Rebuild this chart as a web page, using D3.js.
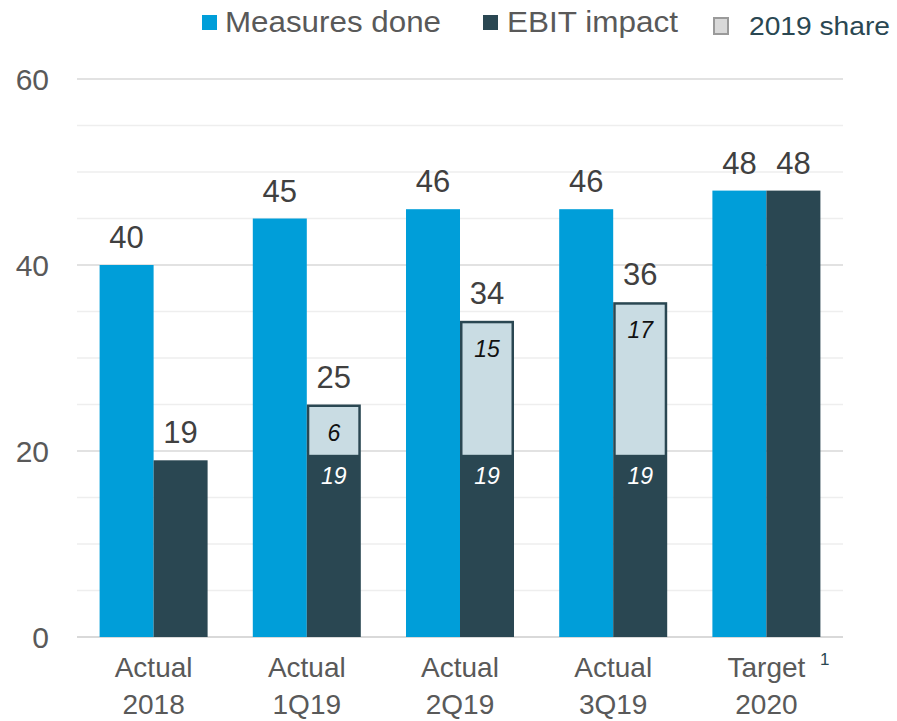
<!DOCTYPE html>
<html><head><meta charset="utf-8">
<script src="https://cdn.jsdelivr.net/npm/d3@7"></script>
<style>body{margin:0;background:#fff}svg{display:block;font-family:"Liberation Sans",Arial,sans-serif}</style>
</head><body><svg id="c" width="897" height="721"></svg>
<script>
const categories = ["Actual|2018","Actual|1Q19","Actual|2Q19","Actual|3Q19","Target|2020"];
const measuresDone = [40,45,46,46,48];
const ebitImpact = [19,25,34,36,48];
const ebitBase = [null,19,19,19,null];
const share2019 = [null,6,15,17,null];
const yTicks = [0,20,40,60];
const gridTicks = [5,10,15,25,30,35,45,50,55];

const C = {blue:"#009ed9", dark:"#2a4752", light:"#c9dce3", text:"#595959", val:"#404040"};
const svg = d3.select("#c");
const x = d3.scaleBand().domain(categories).range([77,843]).paddingInner(0.295).paddingOuter(0.1475);
const xs = d3.scaleBand().domain(["m","e"]).range([0,x.bandwidth()]);
const y = d3.scaleLinear().domain([0,60]).range([637,79]);

// gridlines
svg.append("g").selectAll("line").data(gridTicks).join("line")
  .attr("x1",77).attr("x2",843).attr("y1",d=>y(d)).attr("y2",d=>y(d))
  .attr("stroke","#eeeeee").attr("stroke-width",1.5);
svg.append("g").selectAll("line").data(yTicks).join("line")
  .attr("x1",77).attr("x2",843).attr("y1",d=>y(d)).attr("y2",d=>y(d))
  .attr("stroke","#d9d9d9").attr("stroke-width",d=>d===0?2:1.5);

// y axis labels
const yAxis = d3.axisLeft(y).tickValues(yTicks).tickSize(0).tickPadding(0);
const ya = svg.append("g").attr("transform","translate(49,0)").call(yAxis);
ya.select(".domain").remove();
ya.selectAll("text").attr("font-size",30).attr("fill",C.text).attr("font-family","Liberation Sans, Arial").attr("dy","0.35em");

// bars
const g = svg.append("g");
categories.forEach((c,i)=>{
  const x0 = x(c);
  g.append("rect").attr("x",x0+xs("m")).attr("width",xs.bandwidth())
    .attr("y",y(measuresDone[i])).attr("height",y(0)-y(measuresDone[i])).attr("fill",C.blue);
  g.append("rect").attr("x",x0+xs("e")).attr("width",xs.bandwidth())
    .attr("y",y(ebitImpact[i])).attr("height",y(0)-y(ebitImpact[i])).attr("fill",C.dark);
  const cxM = x0+xs("m")+xs.bandwidth()/2, cxE = x0+xs("e")+xs.bandwidth()/2;
  if (share2019[i]!=null){
    const top = y(ebitBase[i]+share2019[i]), bot = y(ebitBase[i]);
    g.append("rect").attr("x",x0+xs("e")+2.5).attr("width",xs.bandwidth()-5)
      .attr("y",top+2.5).attr("height",bot-5.5-(top+2.5)).attr("fill",C.light);
    g.append("text").attr("x",cxE).attr("y",top+36).attr("text-anchor","middle")
      .attr("font-size",23).attr("font-style","italic").attr("fill","#111").text(share2019[i]);
    g.append("text").attr("x",cxE).attr("y",bot+24).attr("text-anchor","middle")
      .attr("font-size",23).attr("font-style","italic").attr("fill","#fff").text(ebitBase[i]);
  }
  g.append("text").attr("x",cxM).attr("y",y(measuresDone[i])-17).attr("text-anchor","middle")
    .attr("font-size",31).attr("fill",C.val).text(measuresDone[i]);
  g.append("text").attr("x",cxE).attr("y",y(ebitImpact[i])-17).attr("text-anchor","middle")
    .attr("font-size",31).attr("fill",C.val).text(ebitImpact[i]);
});

// x labels
const xl = svg.append("g");
categories.forEach((c,i)=>{
  const [a,b] = c.split("|");
  const cx = x(c)+x.bandwidth()/2;
  xl.append("text").attr("x",cx).attr("y",677).attr("text-anchor","middle").attr("font-size",28).attr("fill",C.text).text(a);
  xl.append("text").attr("x",cx).attr("y",714).attr("text-anchor","middle").attr("font-size",28).attr("fill",C.text).text(b);
});
xl.append("text").attr("x",820).attr("y",665).attr("font-size",17).attr("fill",C.dark).text("1");

// legend
const lg = svg.append("g");
lg.append("rect").attr("x",202).attr("y",15).attr("width",15).attr("height",15).attr("fill",C.blue);
lg.append("text").attr("x",225).attr("y",32).attr("font-size",29).attr("fill",C.text)
  .attr("textLength",216).attr("lengthAdjust","spacingAndGlyphs").text("Measures done");
lg.append("rect").attr("x",483).attr("y",15).attr("width",15).attr("height",15).attr("fill",C.dark);
lg.append("text").attr("x",507).attr("y",32).attr("font-size",29).attr("fill",C.text)
  .attr("textLength",171).attr("lengthAdjust","spacingAndGlyphs").text("EBIT impact");
lg.append("rect").attr("x",714).attr("y",18).attr("width",14).attr("height",16).attr("fill","#d9d9d9").attr("stroke","#9a9a9a").attr("stroke-width",2);
lg.append("text").attr("x",749).attr("y",35).attr("font-size",26).attr("fill",C.dark)
  .attr("textLength",141).attr("lengthAdjust","spacingAndGlyphs").text("2019 share");
</script></body></html>
